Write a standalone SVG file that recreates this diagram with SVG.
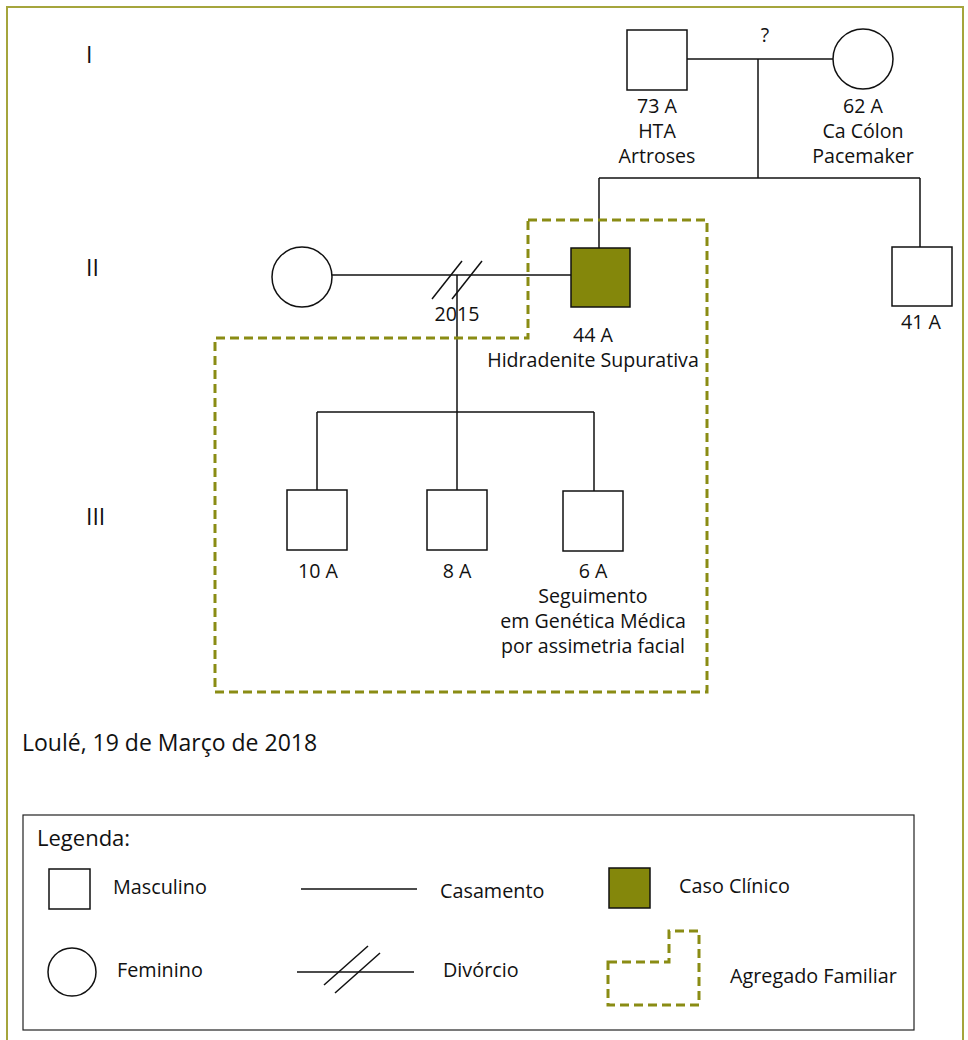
<svg xmlns="http://www.w3.org/2000/svg" width="968" height="1040" viewBox="0 0 968 1040">
<style>
text{font-family:"Open Sans","Noto Sans",sans-serif;fill:#111;}
.lbl{font-size:19.6px;text-anchor:middle;}
.gen{font-size:23px;}
.leg{font-size:19.8px;}
.ln{stroke:#111;stroke-width:1.5;fill:none;}
.m{fill:#fff;stroke:#111;stroke-width:1.5;}
.p{fill:#84870b;stroke:#111;stroke-width:1.5;}
.dash{fill:none;stroke:#8a8c14;stroke-width:3;stroke-dasharray:9 5;}
</style>
<rect width="968" height="1040" fill="#fff"/>
<path d="M7 1040 V7 H963 V1040" fill="none" stroke="#a5a53c" stroke-width="2"/>

<g id="generations">
<text class="gen" x="86" y="63">I</text>
<text class="gen" x="86" y="276">II</text>
<text class="gen" x="86" y="525">III</text>
</g>

<g id="connectors">
<line class="ln" x1="687" y1="59" x2="833" y2="59"/>
<line class="ln" x1="758" y1="59" x2="758" y2="178"/>
<line class="ln" x1="599" y1="178" x2="920" y2="178"/>
<line class="ln" x1="599" y1="178" x2="599" y2="248"/>
<line class="ln" x1="920" y1="178" x2="920" y2="247"/>
<line class="ln" x1="332" y1="275" x2="571" y2="275"/>
<line class="ln" x1="432" y1="299" x2="462" y2="261"/>
<line class="ln" x1="452" y1="299" x2="482" y2="261"/>
<line class="ln" x1="457" y1="275" x2="457" y2="412"/>
<line class="ln" x1="317" y1="412" x2="594" y2="412"/>
<line class="ln" x1="317" y1="412" x2="317" y2="490"/>
<line class="ln" x1="457" y1="412" x2="457" y2="490"/>
<line class="ln" x1="594" y1="412" x2="594" y2="491"/>
<text class="lbl" x="765" y="42">?</text>
<text class="lbl" x="457" y="321">2015</text>
</g>

<g id="household">
<path class="dash" d="M528 220 H707 V692 H215 V338 H528 Z"/>
</g>

<g id="grandfather">
<rect class="m" x="627" y="30" width="60" height="60"/>
<text class="lbl" x="657" y="113">73 A</text>
<text class="lbl" x="657" y="138">HTA</text>
<text class="lbl" x="657" y="163">Artroses</text>
</g>
<g id="grandmother">
<circle class="m" cx="863" cy="59" r="30"/>
<text class="lbl" x="863" y="113">62 A</text>
<text class="lbl" x="863" y="138">Ca Cólon</text>
<text class="lbl" x="863" y="163">Pacemaker</text>
</g>
<g id="exwife">
<circle class="m" cx="302" cy="277" r="30"/>
</g>
<g id="proband">
<rect class="p" x="571" y="248" width="59" height="59"/>
<text class="lbl" x="593" y="342">44 A</text>
<text class="lbl" x="593" y="367">Hidradenite Supurativa</text>
</g>
<g id="uncle">
<rect class="m" x="892" y="247" width="60" height="59"/>
<text class="lbl" x="921" y="329">41 A</text>
</g>
<g id="child1">
<rect class="m" x="287" y="490" width="60" height="60"/>
<text class="lbl" x="318" y="578">10 A</text>
</g>
<g id="child2">
<rect class="m" x="427" y="490" width="60" height="60"/>
<text class="lbl" x="457" y="578">8 A</text>
</g>
<g id="child3">
<rect class="m" x="563" y="491" width="60" height="60"/>
<text class="lbl" x="593" y="578">6 A</text>
<text class="lbl" x="593" y="603">Seguimento</text>
<text class="lbl" x="593" y="628">em Genética Médica</text>
<text class="lbl" x="593" y="653">por assimetria facial</text>
</g>

<text id="date" class="gen" x="22" y="751">Loulé, 19 de Março de 2018</text>

<g id="legend">
<rect x="23" y="815" width="891" height="215" fill="#fff" stroke="#222" stroke-width="1.2"/>
<text class="gen" x="37" y="846" style="font-size:22px">Legenda:</text>
<rect class="m" x="49" y="869" width="41" height="40" stroke-width="1.2"/>
<text class="leg" x="113" y="894">Masculino</text>
<line class="ln" x1="301" y1="889" x2="417" y2="889" stroke-width="1.2"/>
<text class="leg" x="440" y="898">Casamento</text>
<rect class="p" x="609" y="868" width="41" height="40" stroke-width="1.2"/>
<text class="leg" x="679" y="893">Caso Clínico</text>
<circle class="m" cx="72" cy="972" r="24" stroke-width="1.2"/>
<text class="leg" x="117" y="977">Feminino</text>
<line class="ln" x1="297" y1="972" x2="414" y2="972" stroke-width="1.2"/>
<line class="ln" x1="324" y1="985" x2="368" y2="946" stroke-width="1.2"/>
<line class="ln" x1="335" y1="993" x2="380" y2="953" stroke-width="1.2"/>
<text class="leg" x="443" y="977">Divórcio</text>
<path class="dash" d="M608 962 H669 V931 H699 V1005 H608 Z" stroke-width="2.5" stroke-dasharray="7 4"/>
<text class="leg" x="730" y="983">Agregado Familiar</text>
</g>
</svg>
